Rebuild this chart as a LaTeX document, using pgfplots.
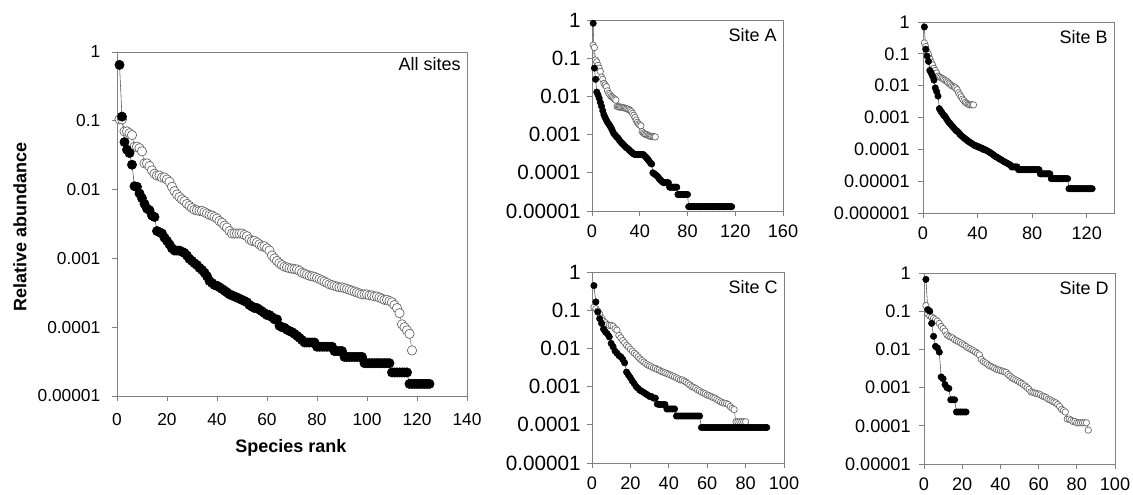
\documentclass[border=0pt]{standalone}
\usepackage{fontspec}
\setmainfont{Liberation Sans}
\usepackage{pgfplots}
\pgfplotsset{compat=1.18}
\pgfplotsset{
  rkbase/.style={
    scale only axis, ymax=1, clip=false,
    axis line style={draw=black!50, line width=0.7pt},
    tick style={draw=black!50, line width=0.7pt},
    tick align=outside, major tick length=3.5pt,
    xtick pos=left, ytick pos=left,
    yminorticks=false, xminorticks=false,
  },
  rkfive/.style={ymin=1e-5,
    ytick={1,0.1,0.01,0.001,0.0001,0.00001},
    yticklabels={1,0.1,0.01,0.001,0.0001,0.00001}},
  rksix/.style={ymin=1e-6,
    ytick={1,0.1,0.01,0.001,0.0001,0.00001,0.000001},
    yticklabels={1,0.1,0.01,0.001,0.0001,0.00001,0.000001}},
  rksmall/.style={rkbase, tick label style={font=\fontsize{13.6}{16}\selectfont},
    xticklabel style={yshift=-3pt},
    width=143.25pt, height=143.25pt, xmin=0},
}
\tikzset{
  rkopen/.style={draw=black!55, line width=0.4pt, mark=*, mark options={fill=white, draw=black!60, line width=0.5pt}},
  rkfill/.style={draw=black!70, line width=0.4pt, mark=*, mark options={fill=black, draw=black}},
}
\newcommand{\sitelabel}[2][-6pt]{\node[anchor=north east, inner sep=0pt, font=\fontsize{13.5}{15}\selectfont] at ([xshift=-4.5pt,yshift=#1]rel axis cs:1,1) {#2};}
\begin{document}
\begin{tikzpicture}
\useasboundingbox (0,0) rectangle (849.75pt,370.5pt);
% ---------------- All sites ----------------
\begin{axis}[ymode=log, rkbase, rkfive, at={(87.75pt,73.5pt)}, anchor=south west,
  width=262.5pt, height=258pt, xmin=0, xmax=140, xtick={0,20,...,140},
  xticklabels={0,20,40,60,80,100,120,140},
  tick label style={font=\fontsize{13}{15}\selectfont},
  xticklabel style={yshift=-6pt}, yticklabel style={xshift=-5.5pt},
  xlabel={Species rank}, ylabel={Relative abundance},
  label style={font=\bfseries\fontsize{13.5}{15}\selectfont},
  xlabel style={at={(axis description cs:0.497,-0.151)}, anchor=center},
  ylabel style={at={(axis description cs:-0.277,0.49)}, anchor=center},
  mark size=3.5pt]
\addplot[rkopen] coordinates {
(1,0.105)(2,0.105)(3,0.07)(4,0.07)(5,0.066)(6,0.062)(7,0.042)(8,0.042)(9,0.04)(10,0.036)
(11,0.024)(12,0.024)(13,0.022)(14,0.019)(15,0.017)(16,0.016)(17,0.016)(18,0.015)(19,0.015)(20,0.014)
(21,0.013)(22,0.011)(23,0.0095)(24,0.0085)(25,0.0078)(26,0.0072)(27,0.0068)(28,0.0062)(29,0.0058)(30,0.0054)
(31,0.0051)(32,0.005)(33,0.0049)(34,0.0049)(35,0.0047)(36,0.0045)(37,0.0043)(38,0.0042)(39,0.004)(40,0.0038)
(41,0.0035)(42,0.0033)(43,0.003)(44,0.0028)(45,0.0025)(46,0.0023)(47,0.0023)(48,0.0023)(49,0.0023)(50,0.0023)
(51,0.0022)(52,0.0021)(53,0.0019)(54,0.0018)(55,0.0018)(56,0.0017)(57,0.0016)(58,0.0015)(59,0.0015)(60,0.0014)
(61,0.0013)(62,0.0011)(63,0.001)(64,0.00092)(65,0.00085)(66,0.0008)(67,0.00076)(68,0.00074)(69,0.00072)(70,0.00071)
(71,0.0007)(72,0.00069)(73,0.00066)(74,0.00062)(75,0.0006)(76,0.00058)(77,0.00056)(78,0.00055)(79,0.00054)(80,0.00052)
(81,0.0005)(82,0.00048)(83,0.00046)(84,0.00044)(85,0.00042)(86,0.00041)(87,0.0004)(88,0.00039)(89,0.00038)(90,0.00038)
(91,0.00037)(92,0.00036)(93,0.00035)(94,0.00034)(95,0.00033)(96,0.00032)(97,0.00031)(98,0.0003)(99,0.0003)(100,0.0003)
(101,0.00029)(102,0.00029)(103,0.00028)(104,0.00028)(105,0.00027)(106,0.00026)(107,0.00025)(108,0.00025)(109,0.00024)(110,0.00023)
(111,0.00021)(112,0.00019)(113,0.00016)(114,0.00011)(115,0.0001)(116,0.00009)(117,0.00008)(118,0.000046)};
\addplot[rkfill] coordinates {
(1,0.65)(2,0.115)(3,0.049)(4,0.038)(5,0.034)(6,0.023)(7,0.0112)(8,0.011)(9,0.0088)(10,0.0075)
(11,0.0062)(12,0.0053)(13,0.005)(14,0.0042)(15,0.004)(16,0.0025)(17,0.0024)(18,0.0023)(19,0.002)(20,0.0018)
(21,0.0016)(22,0.0014)(23,0.0013)(24,0.0013)(25,0.0013)(26,0.00125)(27,0.0012)(28,0.0011)(29,0.00098)(30,0.00092)
(31,0.00085)(32,0.0008)(33,0.00073)(34,0.00068)(35,0.00062)(36,0.00055)(37,0.00047)(38,0.00044)(39,0.00041)(40,0.0004)
(41,0.00038)(42,0.00036)(43,0.00034)(44,0.00032)(45,0.0003)(46,0.00029)(47,0.00028)(48,0.00027)(49,0.00026)(50,0.00025)
(51,0.00024)(52,0.00023)(53,0.00021)(54,0.0002)(55,0.00019)(56,0.00019)(57,0.00018)(58,0.00017)(59,0.00016)(60,0.00015)
(61,0.00015)(62,0.00014)(63,0.00013)(64,0.00013)(65,0.000105)(66,0.0001)(67,0.000098)(68,0.000092)(69,0.000088)(70,0.000085)
(71,0.00008)(72,0.000075)(73,0.00007)(74,0.000065)(75,0.00006)(76,0.00006)(77,0.00006)(78,0.00006)(79,0.00006)(80,0.000052)
(81,0.000052)(82,0.000052)(83,0.000052)(84,0.000052)(85,0.000052)(86,0.000052)(87,0.000045)(88,0.000045)(89,0.000045)(90,0.000045)
(91,0.000037)(92,0.000037)(93,0.000037)(94,0.000037)(95,0.000037)(96,0.000037)(97,0.000037)(98,0.000037)(99,0.00003)(100,0.00003)
(101,0.00003)(102,0.00003)(103,0.00003)(104,0.00003)(105,0.00003)(106,0.00003)(107,0.00003)(108,0.00003)(109,0.00003)(110,0.000022)
(111,0.000022)(112,0.000022)(113,0.000022)(114,0.000022)(115,0.000022)(116,0.000022)(117,0.000015)(118,0.000015)(119,0.000015)(120,0.000015)
(121,0.000015)(122,0.000015)(123,0.000015)(124,0.000015)(125,0.000015)};
\sitelabel[-4pt]{All sites}
\end{axis}
% ---------------- Site A ----------------
\begin{axis}[ymode=log, rksmall, rkfive, at={(444pt,212.25pt)}, anchor=south west,
  yticklabel style={xshift=-1.5pt, font=\fontsize{15.5}{17}\selectfont},
  xmax=160, xtick={0,40,...,160}, xticklabels={0,40,80,120,160}, mark size=2.4pt]
\addplot[rkopen] coordinates {
(1,0.22)(2,0.19)(3,0.09)(4,0.08)(5,0.065)(6,0.055)(7,0.045)(8,0.032)(9,0.028)(10,0.022)
(11,0.02)(12,0.018)(13,0.014)(14,0.012)(15,0.011)(16,0.01)(17,0.0095)(18,0.009)(19,0.0085)(20,0.008)
(21,0.0055)(22,0.0053)(23,0.0053)(24,0.0052)(25,0.0052)(26,0.0051)(27,0.005)(28,0.0049)(29,0.0048)(30,0.0047)
(31,0.0045)(32,0.0043)(33,0.004)(34,0.0036)(35,0.0032)(36,0.0028)(37,0.0024)(38,0.0021)(39,0.0019)(40,0.0018)
(41,0.0017)(42,0.0012)(43,0.0011)(44,0.00105)(45,0.001)(46,0.001)(47,0.00095)(48,0.00092)(49,0.0009)(50,0.0009)
(51,0.00089)(52,0.00088)(53,0.00087)};
\addplot[rkfill] coordinates {
(1,0.82)(2,0.055)(3,0.028)(4,0.013)(5,0.011)(6,0.009)(7,0.007)(8,0.0055)(9,0.0042)(10,0.0033)
(11,0.0028)(12,0.0024)(13,0.0021)(14,0.0019)(15,0.0017)(16,0.0015)(17,0.0013)(18,0.0011)(19,0.001)(20,0.00092)
(21,0.00085)(22,0.0008)(23,0.0007)(24,0.00065)(25,0.0006)(26,0.00056)(27,0.00052)(28,0.00048)(29,0.00045)(30,0.00043)
(31,0.0004)(32,0.00037)(33,0.00035)(34,0.00033)(35,0.00031)(36,0.0003)(37,0.0003)(38,0.0003)(39,0.0003)(40,0.0003)
(41,0.0003)(42,0.0003)(43,0.0003)(44,0.00028)(45,0.00026)(46,0.00024)(47,0.00022)(48,0.0002)(49,0.00018)(50,0.00017)
(51,0.0001)(52,0.000095)(53,0.00009)(54,0.000085)(55,0.00008)(56,0.000072)(57,0.000066)(58,0.000062)(59,0.000058)(60,0.000055)
(61,0.000055)(62,0.000055)(63,0.000055)(64,0.000055)(65,0.000042)(66,0.000042)(67,0.000042)(68,0.000042)(69,0.000042)(70,0.000042)
(71,0.000042)(72,0.000027)(73,0.000027)(74,0.000027)(75,0.000027)(76,0.000027)(77,0.000027)(78,0.000027)(79,0.000027)(80,0.000027)
(81,0.000013)(82,0.000013)(83,0.000013)(84,0.000013)(85,0.000013)(86,0.000013)(87,0.000013)(88,0.000013)(89,0.000013)(90,0.000013)
(91,0.000013)(92,0.000013)(93,0.000013)(94,0.000013)(95,0.000013)(96,0.000013)(97,0.000013)(98,0.000013)(99,0.000013)(100,0.000013)
(101,0.000013)(102,0.000013)(103,0.000013)(104,0.000013)(105,0.000013)(106,0.000013)(107,0.000013)(108,0.000013)(109,0.000013)(110,0.000013)
(111,0.000013)(112,0.000013)(113,0.000013)(114,0.000013)(115,0.000013)(116,0.000013)(117,0.000013)};
\sitelabel{Site A}
\end{axis}
% ---------------- Site B ----------------
\begin{axis}[ymode=log, rksmall, rksix, at={(692.25pt,210.75pt)}, anchor=south west,
  width=143.25pt, height=143.25pt, yticklabel style={xshift=-3pt},
  xmax=140, xtick={0,40,80,120}, xticklabels={0,40,80,120}, mark size=2.4pt]
\addplot[rkopen] coordinates {
(1,0.22)(2,0.17)(3,0.12)(4,0.095)(5,0.07)(6,0.055)(7,0.045)(8,0.035)(9,0.03)(10,0.025)
(11,0.02)(12,0.019)(13,0.018)(14,0.017)(15,0.016)(16,0.015)(17,0.014)(18,0.013)(19,0.012)(20,0.011)
(21,0.01)(22,0.0095)(23,0.009)(24,0.0085)(25,0.0075)(26,0.006)(27,0.0052)(28,0.0045)(29,0.0038)(30,0.0034)
(31,0.003)(32,0.0028)(33,0.0026)(34,0.0025)(35,0.0025)(36,0.0025)(37,0.0025)};
\addplot[rkfill] coordinates {
(1,0.7)(2,0.14)(3,0.085)(4,0.058)(5,0.03)(6,0.025)(7,0.02)(8,0.015)(9,0.0085)(10,0.0065)
(11,0.0047)(12,0.0019)(13,0.0016)(14,0.0014)(15,0.0012)(16,0.0011)(17,0.00095)(18,0.0008)(19,0.0007)(20,0.00063)
(21,0.00056)(22,0.0005)(23,0.00045)(24,0.0004)(25,0.00037)(26,0.00034)(27,0.0003)(28,0.00027)(29,0.00025)(30,0.00023)
(31,0.00021)(32,0.0002)(33,0.00018)(34,0.00017)(35,0.00016)(36,0.00015)(37,0.00014)(38,0.00013)(39,0.00013)(40,0.00012)
(41,0.00012)(42,0.00011)(43,0.00011)(44,0.0001)(45,0.0001)(46,0.000095)(47,0.00009)(48,0.000085)(49,0.00008)(50,0.000075)
(51,0.00007)(52,0.000065)(53,0.00006)(54,0.000057)(55,0.000054)(56,0.00005)(57,0.000048)(58,0.000045)(59,0.000042)(60,0.00004)
(61,0.000038)(62,0.000036)(63,0.000034)(64,0.000032)(65,0.000028)(66,0.000028)(67,0.000028)(68,0.000028)(69,0.000028)(70,0.000023)
(71,0.000023)(72,0.000023)(73,0.000023)(74,0.000023)(75,0.000023)(76,0.000023)(77,0.000023)(78,0.000023)(79,0.000023)(80,0.000023)
(81,0.000023)(82,0.000023)(83,0.000023)(84,0.000023)(85,0.000023)(86,0.000017)(87,0.000017)(88,0.000017)(89,0.000017)(90,0.000017)
(91,0.000017)(92,0.000017)(93,0.000017)(94,0.000012)(95,0.000012)(96,0.000012)(97,0.000012)(98,0.000012)(99,0.000012)(100,0.000012)
(101,0.000012)(102,0.000012)(103,0.000012)(104,0.000012)(105,0.000012)(106,0.000012)(107,0.0000058)(108,0.0000058)(109,0.0000058)(110,0.0000058)
(111,0.0000058)(112,0.0000058)(113,0.0000058)(114,0.0000058)(115,0.0000058)(116,0.0000058)(117,0.0000058)(118,0.0000058)(119,0.0000058)(120,0.0000058)
(121,0.0000058)(122,0.0000058)(123,0.0000058)(124,0.0000058)};
\sitelabel{Site B}
\end{axis}
% ---------------- Site C ----------------
\begin{axis}[ymode=log, rksmall, rkfive, at={(444pt,23.25pt)}, anchor=south west,
  width=144pt, height=143.25pt,
  yticklabel style={xshift=-1.5pt, font=\fontsize{15.5}{17}\selectfont},
  xmax=100, xtick={0,20,...,100}, xticklabels={0,20,40,60,80,100}, mark size=2.4pt]
\addplot[rkopen] coordinates {
(1,0.12)(2,0.11)(3,0.095)(4,0.08)(5,0.062)(6,0.052)(7,0.047)(8,0.042)(9,0.04)(10,0.04)
(11,0.038)(12,0.033)(13,0.03)(14,0.022)(15,0.019)(16,0.016)(17,0.014)(18,0.012)(19,0.011)(20,0.0095)
(21,0.0085)(22,0.0075)(23,0.0068)(24,0.006)(25,0.0053)(26,0.0048)(27,0.0044)(28,0.004)(29,0.0037)(30,0.0035)
(31,0.0033)(32,0.0031)(33,0.003)(34,0.0028)(35,0.0027)(36,0.0025)(37,0.0024)(38,0.0023)(39,0.0022)(40,0.0021)
(41,0.002)(42,0.0019)(43,0.0018)(44,0.0017)(45,0.0016)(46,0.0015)(47,0.0015)(48,0.0014)(49,0.0013)(50,0.0012)
(51,0.0011)(52,0.001)(53,0.00095)(54,0.0009)(55,0.00082)(56,0.00078)(57,0.00072)(58,0.00068)(59,0.00065)(60,0.0006)
(61,0.00058)(62,0.00055)(63,0.00052)(64,0.0005)(65,0.00046)(66,0.00043)(67,0.0004)(68,0.00038)(69,0.00037)(70,0.00036)
(71,0.00034)(72,0.0003)(73,0.00027)(74,0.00025)(75,0.00012)(76,0.00012)(77,0.00012)(78,0.00012)(79,0.00012)(80,0.00012)};
\addplot[rkfill] coordinates {
(1,0.44)(2,0.165)(3,0.09)(4,0.06)(5,0.045)(6,0.032)(7,0.027)(8,0.024)(9,0.02)(10,0.0135)
(11,0.011)(12,0.0085)(13,0.0075)(14,0.0065)(15,0.006)(16,0.0052)(17,0.0042)(18,0.0024)(19,0.002)(20,0.0017)
(21,0.0014)(22,0.0012)(23,0.001)(24,0.0009)(25,0.0008)(26,0.00075)(27,0.0007)(28,0.00065)(29,0.0006)(30,0.00055)
(31,0.00055)(32,0.0005)(33,0.0005)(34,0.00035)(35,0.00034)(36,0.00034)(37,0.00034)(38,0.00034)(39,0.00026)(40,0.00026)
(41,0.00026)(42,0.00026)(43,0.00026)(44,0.00017)(45,0.00017)(46,0.00017)(47,0.00017)(48,0.00017)(49,0.00017)(50,0.00017)
(51,0.00017)(52,0.00017)(53,0.00017)(54,0.00017)(55,0.00017)(56,0.00017)(57,0.000085)(58,0.000085)(59,0.000085)(60,0.000085)
(61,0.000085)(62,0.000085)(63,0.000085)(64,0.000085)(65,0.000085)(66,0.000085)(67,0.000085)(68,0.000085)(69,0.000085)(70,0.000085)
(71,0.000085)(72,0.000085)(73,0.000085)(74,0.000085)(75,0.000085)(76,0.000085)(77,0.000085)(78,0.000085)(79,0.000085)(80,0.000085)
(81,0.000085)(82,0.000085)(83,0.000085)(84,0.000085)(85,0.000085)(86,0.000085)(87,0.000085)(88,0.000085)(89,0.000085)(90,0.000085)
(91,0.000085)};
\sitelabel{Site C}
\end{axis}
% ---------------- Site D ----------------
\begin{axis}[ymode=log, rksmall, rkfive, at={(693pt,22.5pt)}, anchor=south west,
  yticklabel style={xshift=-3pt},
  xmax=100, xtick={0,20,...,100}, xticklabels={0,20,40,60,80,100}, mark size=2.4pt]
\addplot[rkopen] coordinates {
(1,0.14)(2,0.085)(3,0.075)(4,0.07)(5,0.065)(6,0.06)(7,0.055)(8,0.048)(9,0.04)(10,0.035)
(11,0.03)(12,0.024)(13,0.022)(14,0.021)(15,0.02)(16,0.018)(17,0.017)(18,0.016)(19,0.015)(20,0.014)
(21,0.013)(22,0.012)(23,0.011)(24,0.0105)(25,0.0098)(26,0.0092)(27,0.0085)(28,0.0078)(29,0.0072)(30,0.0055)
(31,0.0048)(32,0.0045)(33,0.0042)(34,0.0038)(35,0.0036)(36,0.0034)(37,0.0032)(38,0.003)(39,0.0029)(40,0.0028)
(41,0.0027)(42,0.0026)(43,0.0025)(44,0.0022)(45,0.002)(46,0.0018)(47,0.0017)(48,0.0016)(49,0.0015)(50,0.0014)
(51,0.0013)(52,0.0012)(53,0.0011)(54,0.001)(55,0.0009)(56,0.00078)(57,0.00075)(58,0.00072)(59,0.0007)(60,0.00068)
(61,0.00065)(62,0.0006)(63,0.00058)(64,0.00055)(65,0.0005)(66,0.00048)(67,0.00045)(68,0.00042)(69,0.0004)(70,0.00036)
(71,0.00032)(72,0.00027)(73,0.00025)(74,0.00023)(75,0.00015)(76,0.00015)(77,0.00014)(78,0.00013)(79,0.00013)(80,0.00012)
(81,0.00012)(82,0.00012)(83,0.00012)(84,0.00012)(85,0.00012)(86,0.000077)};
\addplot[rkfill] coordinates {
(1,0.68)(2,0.11)(3,0.1)(4,0.048)(5,0.022)(6,0.012)(7,0.011)(8,0.0085)(9,0.0019)(10,0.0017)
(11,0.0012)(12,0.001)(13,0.00095)(14,0.00048)(15,0.00048)(16,0.00048)(17,0.00023)(18,0.00023)(19,0.00023)(20,0.00023)
(21,0.00023)(22,0.00023)};
\sitelabel{Site D}
\end{axis}
\end{tikzpicture}
\end{document}
